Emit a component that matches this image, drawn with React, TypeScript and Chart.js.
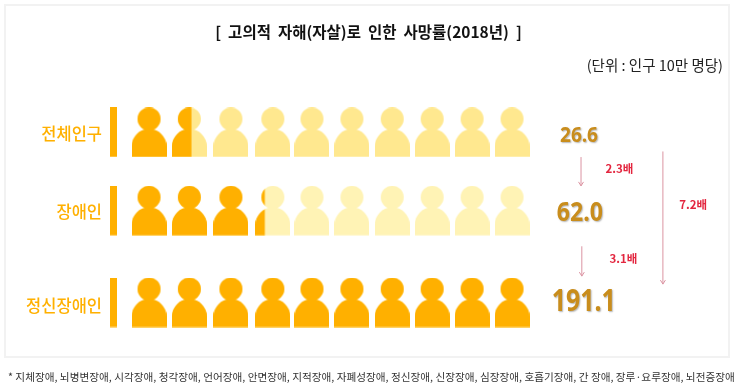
import React, { useEffect, useRef } from "react";
import { Chart, registerables } from "chart.js";

Chart.register(...registerables);

const rowNames = ["전체인구", "장애인", "정신장애인"];
const rates = ["26.6", "62.0", "191.1"];
const filledIcons = [1.56, 3.27, 10];
const iconColumns = [1, 2, 3.03, 4.07, 5.04, 6.03, 7.03, 8.02, 9.01, 10];
const rowPositions = [0, 0.853, 1.853];
const rowLabelPositions = [0.015, 0.868, 1.885];
const titleText = "[  고의적  자해(자살)로  인한  사망률(2018년)  ]";
const unitText = "(단위 : 인구 10만 명당)";
const footnoteText =
  "* 지체장애, 뇌병변장애, 시각장애, 청각장애, 언어장애, 안면장애, 지적장애, 자폐성장애, 정신장애, 신장장애, 심장장애, 호흡기장애, 간 장애, 장루·요루장애, 뇌전증장애";
const ratioLabels = ["2.3배", "3.1배", "7.2배"];
const ratioFrom = [0.268, 1.24, 0.207];
const ratioTo = [0.582, 1.565, 1.652];
const ratioArrowColumns = [11.71, 11.73, 13.74];
const ratioLabelColumns = [12.66, 12.76, 14.49];
const ratioLabelRows = [0.39, 1.37, 0.79];
const rateColumns = [11.66, 11.68, 11.78];
const rateRows = [0.033, 0.886, 1.853];
const rateFontSizes = [22, 27, 31];
const rateWidths = [38, 46, 64];

const KR = '"Noto Sans CJK KR", "Noto Sans", sans-serif';
const ORANGE = "#FFB000";
const PALE = ["#FFE88F", "#FFF3B5", "#FFE88F"];
const ICON_W = 35;
const ICON_H = 50;

function personIcon(fill: number, pale: string) {
  const c = document.createElement("canvas");
  c.width = ICON_W;
  c.height = ICON_H;
  const g = c.getContext("2d")!;
  const shape = () => {
    g.beginPath();
    g.arc(ICON_W / 2, 11.5, 11.5, 0, Math.PI * 2);
    g.closePath();
    g.moveTo(0, 49.5);
    g.lineTo(0, 39);
    g.arc(17.5, 39, 17.5, Math.PI, 0);
    g.lineTo(35, 49.5);
    g.closePath();
  };
  g.fillStyle = pale;
  shape();
  g.fill();
  g.save();
  g.beginPath();
  g.rect(0, 0, ICON_W * fill, ICON_H);
  g.clip();
  g.fillStyle = ORANGE;
  shape();
  g.fill();
  g.restore();
  return c;
}

function markerBar() {
  const c = document.createElement("canvas");
  c.width = 7;
  c.height = ICON_H;
  const g = c.getContext("2d")!;
  g.fillStyle = ORANGE;
  g.fillRect(0, 0, 7, 49.5);
  return c;
}

const overlay = {
  id: "overlay",
  beforeDraw(chart: any) {
    const { ctx } = chart;
    ctx.save();
    ctx.strokeStyle = "#F2F2F2";
    ctx.lineWidth = 2;
    ctx.strokeRect(5, 5, 724, 352);
    ctx.restore();
  },
  afterDraw(chart: any) {
    const { ctx, scales } = chart;
    const { x, y } = scales;
    ctx.save();
    ctx.textBaseline = "middle";

    rates.forEach((rate, i) => {
      ctx.save();
      ctx.font = `bold ${rateFontSizes[i]}px "Noto Sans", sans-serif`;
      ctx.textAlign = "center";
      ctx.fillStyle = "#C98D1C";
      ctx.shadowColor = "rgba(90,90,90,0.45)";
      ctx.shadowBlur = 1.5;
      ctx.shadowOffsetX = 1;
      ctx.shadowOffsetY = 1;
      ctx.fillText(rate, x.getPixelForValue(rateColumns[i]), y.getPixelForValue(rateRows[i]), rateWidths[i]);
      ctx.restore();
    });

    ratioLabels.forEach((label, i) => {
      const ax = x.getPixelForValue(ratioArrowColumns[i]);
      const y0 = y.getPixelForValue(ratioFrom[i]);
      const y1 = y.getPixelForValue(ratioTo[i]);
      ctx.strokeStyle = "#DB94A2";
      ctx.lineWidth = 1;
      ctx.beginPath();
      ctx.moveTo(ax, y0);
      ctx.lineTo(ax, y1);
      ctx.moveTo(ax - 2.5, y1 - 4);
      ctx.lineTo(ax, y1);
      ctx.lineTo(ax + 2.5, y1 - 4);
      ctx.stroke();
      ctx.font = `bold 11.5px ${KR}`;
      ctx.textAlign = "center";
      ctx.fillStyle = "#E3263F";
      ctx.fillText(label, x.getPixelForValue(ratioLabelColumns[i]), y.getPixelForValue(ratioLabelRows[i]));
    });

    ctx.font = `10.65px ${KR}`;
    ctx.textAlign = "left";
    ctx.fillStyle = "#333333";
    ctx.fillText(footnoteText, 8, 377);
    ctx.restore();
  },
};

export default function App() {
  const ref = useRef<HTMLCanvasElement>(null);
  useEffect(() => {
    const iconDatasets = rowNames.map((name, r) => ({
      label: name,
      data: iconColumns.map((col) => ({ x: col, y: rowPositions[r] })),
      pointStyle: iconColumns.map((_, k) =>
        personIcon(Math.max(0, Math.min(1, filledIcons[r] - k)), PALE[r])
      ),
      clip: false,
    }));
    const chart = new Chart(ref.current!, {
      type: "scatter",
      data: {
        datasets: [
          ...iconDatasets,
          {
            label: "marker",
            data: rowPositions.map((p) => ({ x: 0.125, y: p })),
            pointStyle: markerBar(),
            clip: false,
          },
        ],
      } as any,
      plugins: [overlay],
      options: {
        animation: false,
        responsive: false,
        layout: { padding: { left: 14, right: 20, top: 0, bottom: 52 } },
        plugins: {
          legend: { display: false },
          tooltip: { enabled: false },
          title: {
            display: true,
            text: titleText,
            color: "#111111",
            align: "center",
            font: { family: KR, size: 15.5, weight: "bold" },
            padding: { top: 23, bottom: 0 },
          },
          subtitle: {
            display: true,
            text: unitText,
            color: "#222222",
            align: "end",
            font: { family: KR, size: 14.5, weight: "400" },
            padding: { top: 15, bottom: 6.6 },
          },
        },
        scales: {
          x: {
            type: "linear",
            display: false,
            min: -0.116,
            max: 15.23,
          },
          y: {
            type: "linear",
            reverse: true,
            min: -0.565,
            max: 2.261,
            grid: { display: false, drawTicks: false },
            border: { display: false },
            afterFit(scale: any) {
              scale.width = 90;
            },
            afterBuildTicks(scale: any) {
              scale.ticks = rowLabelPositions.map((value) => ({ value }));
            },
            ticks: {
              color: ORANGE,
              padding: 2,
              autoSkip: false,
              font: { family: KR, size: 16.5, weight: "500" },
              callback: (_value: any, index: number) => rowNames[index] ?? "",
            },
          },
        },
      } as any,
    });
    return () => chart.destroy();
  }, []);
  return (
    <div style={{ position: "absolute", left: 0, top: 0, width: 743, height: 392, background: "#fff" }}>
      <canvas ref={ref} width={743} height={392} style={{ display: "block" }} />
    </div>
  );
}
